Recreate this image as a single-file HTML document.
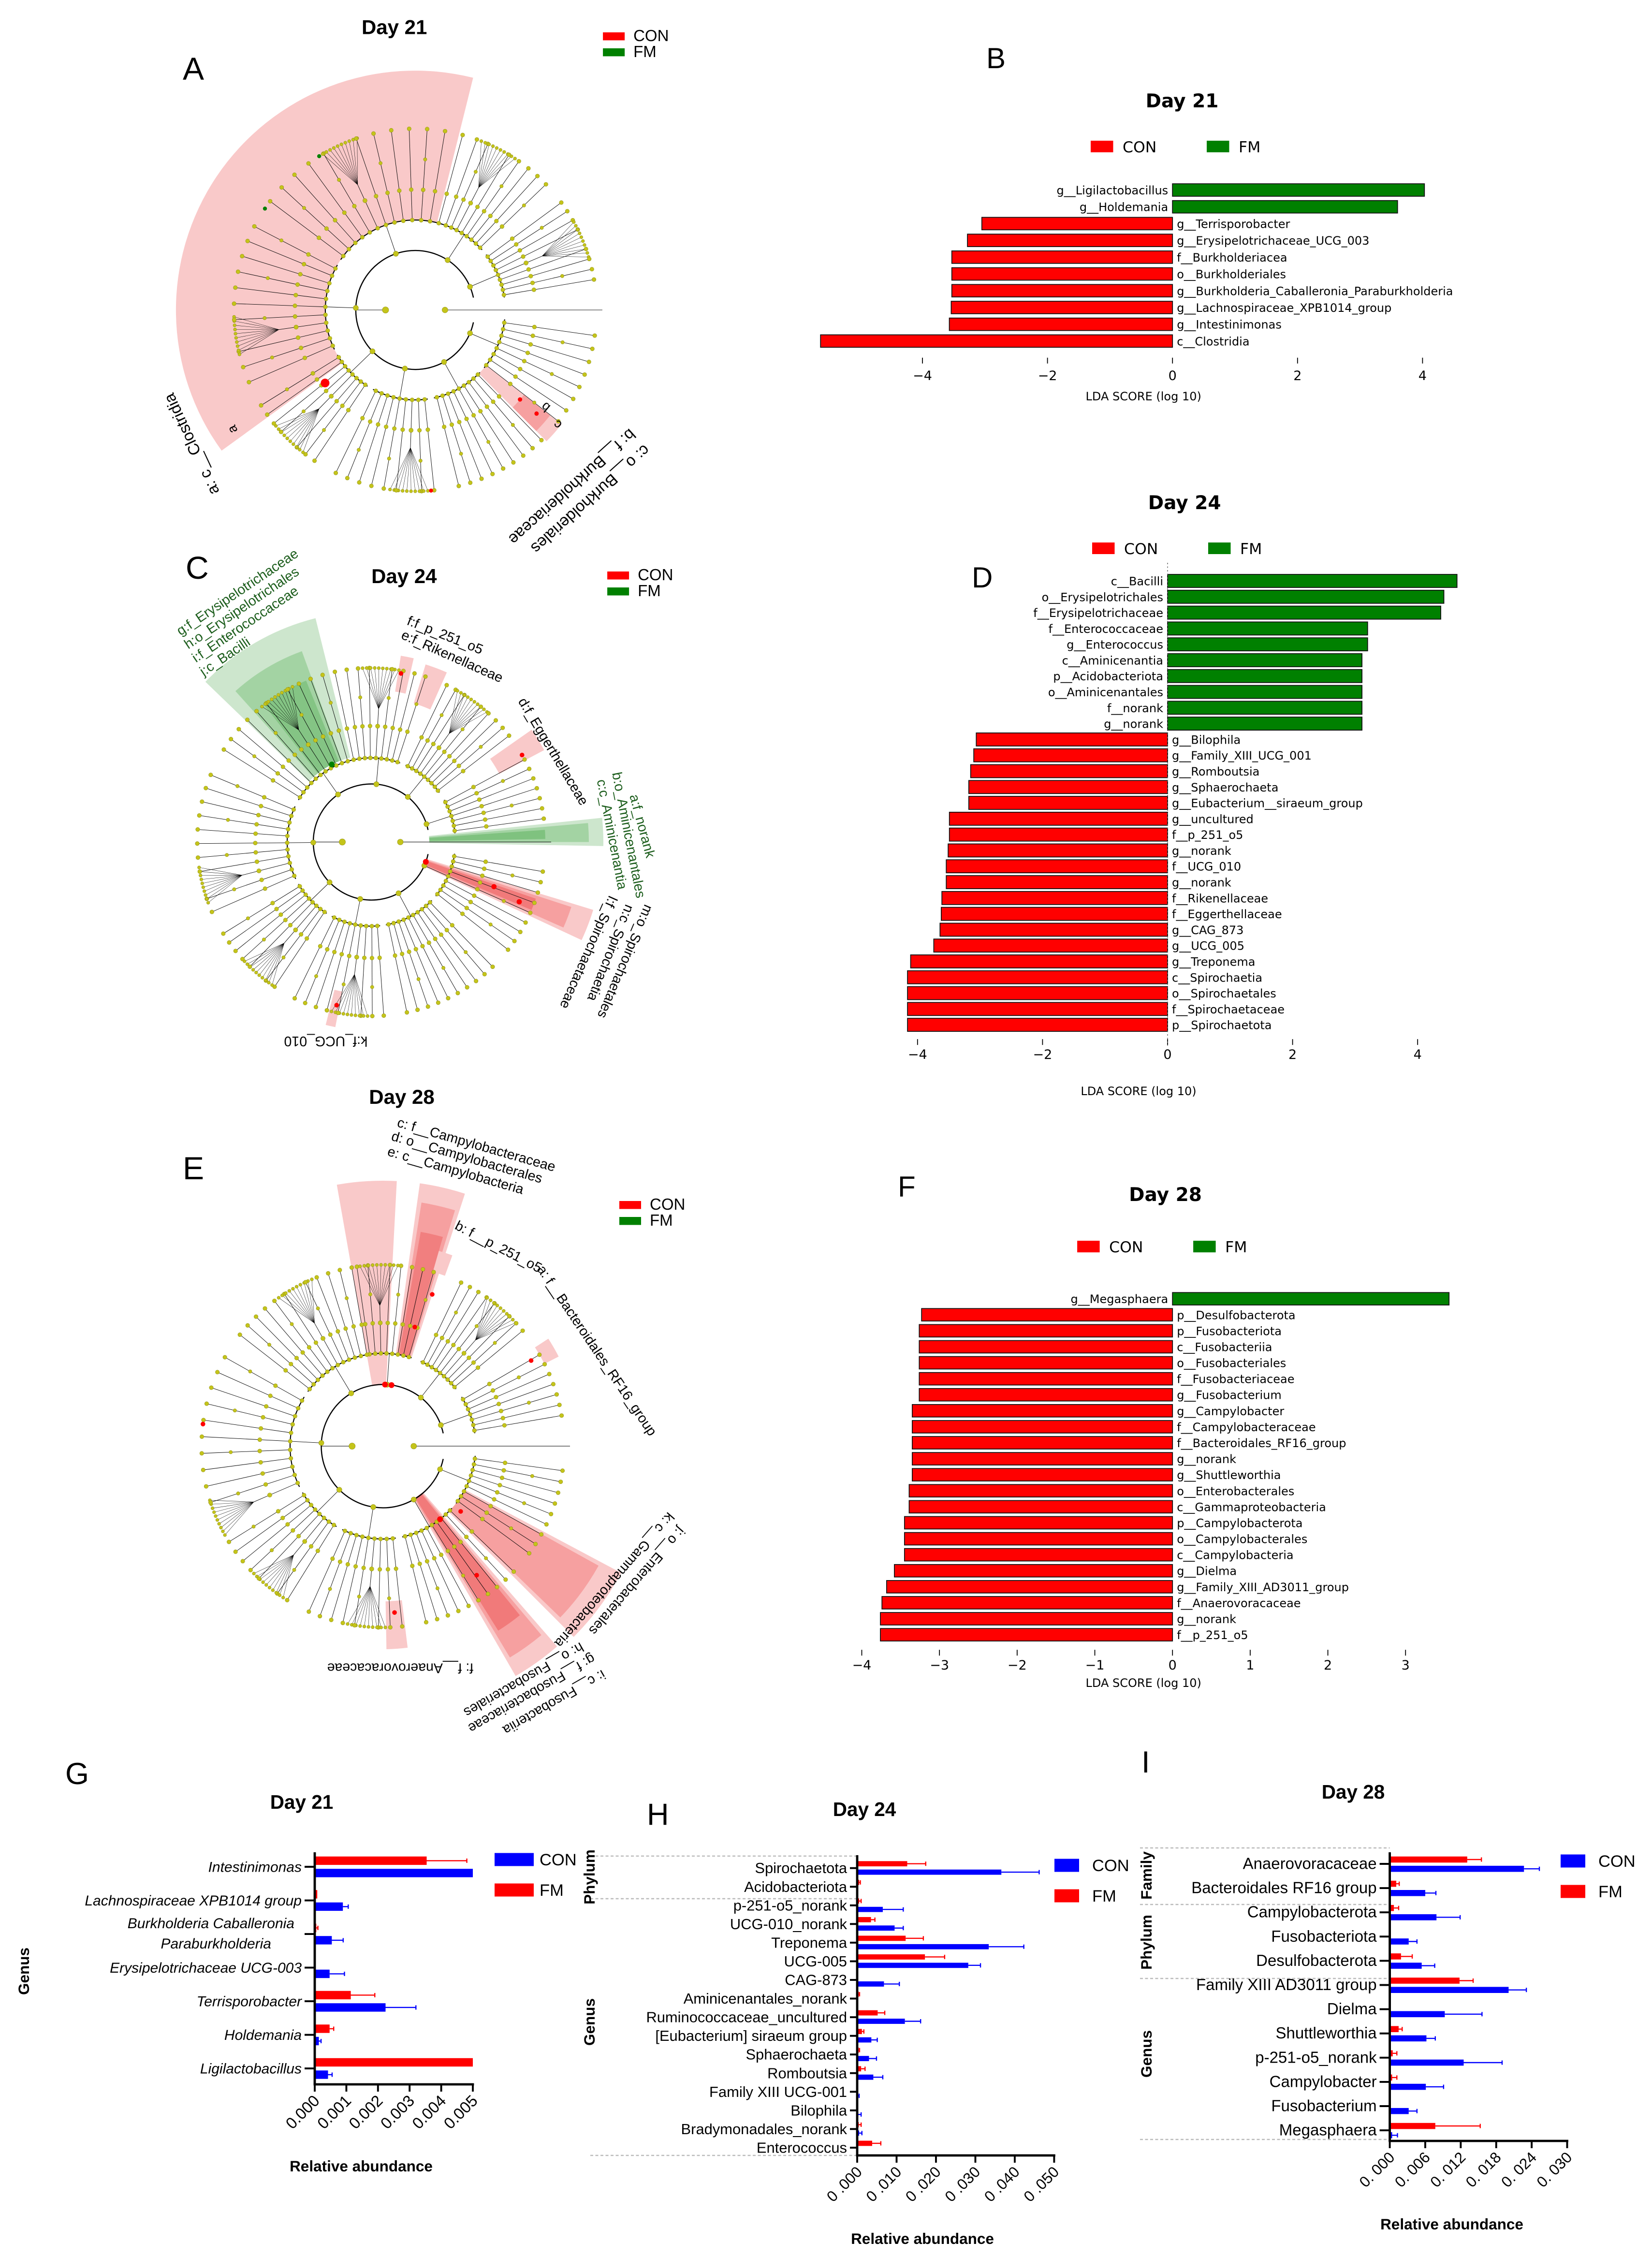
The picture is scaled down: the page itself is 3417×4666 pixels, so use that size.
<!DOCTYPE html>
<html><head><meta charset="utf-8"><title>LEfSe figure</title>
<style>
html,body{margin:0;padding:0;background:#fff;}
svg{display:block;}
text{font-family:"Liberation Sans",sans-serif;}
.dj{font-family:"DejaVu Sans","Liberation Sans",sans-serif;}
</style></head>
<body>
<svg id="fig" xmlns="http://www.w3.org/2000/svg" width="3417" height="4666" viewBox="0 0 1139 1555.33">
<rect x="0" y="0" width="1139" height="1555.33" fill="#fff"/>
</svg>
<script>
// ---------------- DATA ----------------
const B_labels=["g__Ligilactobacillus","g__Holdemania","g__Terrisporobacter","g__Erysipelotrichaceae_UCG_003","f__Burkholderiacea","o__Burkholderiales","g__Burkholderia_Caballeronia_Paraburkholderia","g__Lachnospiraceae_XPB1014_group","g__Intestinimonas","c__Clostridia"];
const B_values=[4.03,3.6,-3.05,-3.28,-3.53,-3.53,-3.53,-3.54,-3.57,-5.63];
const B_ticks=[-4,-2,0,2,4];

const D_labels=["c__Bacilli","o__Erysipelotrichales","f__Erysipelotrichaceae","f__Enterococcaceae","g__Enterococcus","c__Aminicenantia","p__Acidobacteriota","o__Aminicenantales","f__norank","g__norank","g__Bilophila","g__Family_XIII_UCG_001","g__Romboutsia","g__Sphaerochaeta","g__Eubacterium__siraeum_group","g__uncultured","f__p_251_o5","g__norank","f__UCG_010","g__norank","f__Rikenellaceae","f__Eggerthellaceae","g__CAG_873","g__UCG_005","g__Treponema","c__Spirochaetia","o__Spirochaetales","f__Spirochaetaceae","p__Spirochaetota"];
const D_values=[4.63,4.42,4.37,3.2,3.2,3.11,3.11,3.11,3.11,3.11,-3.06,-3.10,-3.15,-3.18,-3.18,-3.49,-3.49,-3.51,-3.54,-3.54,-3.61,-3.62,-3.64,-3.74,-4.11,-4.16,-4.16,-4.16,-4.16];
const D_ticks=[-4,-2,0,2,4];

const F_labels=["g__Megasphaera","p__Desulfobacterota","p__Fusobacteriota","c__Fusobacteriia","o__Fusobacteriales","f__Fusobacteriaceae","g__Fusobacterium","g__Campylobacter","f__Campylobacteraceae","f__Bacteroidales_RF16_group","g__norank","g__Shuttleworthia","o__Enterobacterales","c__Gammaproteobacteria","p__Campylobacterota","o__Campylobacterales","c__Campylobacteria","g__Dielma","g__Family_XIII_AD3011_group","f__Anaerovoracaceae","g__norank","f__p_251_o5"];
const F_values=[3.56,-3.23,-3.26,-3.26,-3.26,-3.26,-3.26,-3.35,-3.35,-3.35,-3.35,-3.35,-3.39,-3.39,-3.45,-3.45,-3.45,-3.58,-3.68,-3.74,-3.76,-3.76];
const F_ticks=[-4,-3,-2,-1,0,1,2,3];

const G_categories=["Intestinimonas","Lachnospiraceae XPB1014 group","Burkholderia Caballeronia|Paraburkholderia","Erysipelotrichaceae UCG-003","Terrisporobacter","Holdemania","Ligilactobacillus"];
const G_fm=[0.00354,0.00008,0.00005,0,0.00114,0.00047,0.005];
const G_fmErr=[0.00127,0,0.00005,0,0.00076,0.00013,0];
const G_con=[0.005,0.00089,0.00054,0.00047,0.00224,0.00013,0.00042];
const G_conErr=[0,0.00017,0.00036,0.00047,0.00096,0.00007,0.00013];
const G_ticks=["0.000","0.001","0.002","0.003","0.004","0.005"];

const H_categories=["Spirochaetota","Acidobacteriota","p-251-o5_norank","UCG-010_norank","Treponema","UCG-005","CAG-873","Aminicenantales_norank","Ruminococcaceae_uncultured","[Eubacterium] siraeum group","Sphaerochaeta","Romboutsia","Family XIII UCG-001","Bilophila","Bradymonadales_norank","Enterococcus"];
const H_fm=[0.0127,0.0005,0.0005,0.0035,0.0123,0.0172,0.0002,0.0004,0.0052,0.0012,0.0004,0.0010,0,0,0.0004,0.0038];
const H_fmErr=[0.0047,0.0003,0.0005,0.0010,0.0045,0.0050,0,0.0002,0.0018,0.0005,0.0002,0.0010,0,0,0.0006,0.0022];
const H_con=[0.0366,0,0.0065,0.0095,0.0334,0.0282,0.0068,0,0.0121,0.0036,0.0030,0.0041,0.0003,0.0003,0.0005,0.0001];
const H_conErr=[0.0096,0,0.0052,0.0022,0.0089,0.0031,0.0039,0,0.0040,0.0015,0.0019,0.0024,0.0002,0.0007,0.0007,0];
const H_ticks=["0 .000","0 .010","0 .020","0 .030","0 .040","0 .050"];

const I_categories=["Anaerovoracaceae","Bacteroidales RF16 group","Campylobacterota","Fusobacteriota","Desulfobacterota","Family XIII AD3011 group","Dielma","Shuttleworthia","p-251-o5_norank","Campylobacter","Fusobacterium","Megasphaera"];
const I_fm=[0.0131,0.0011,0.0007,0,0.0019,0.0118,0,0.0015,0.0005,0.0004,0,0.0077];
const I_fmErr=[0.0024,0.0005,0.0008,0,0.0019,0.0023,0,0.0006,0.0007,0.0008,0,0.0076];
const I_con=[0.0227,0.0060,0.0079,0.0032,0.0054,0.0201,0.0093,0.0062,0.0125,0.0061,0.0032,0.0004];
const I_conErr=[0.0026,0.0018,0.0040,0.0014,0.0022,0.0030,0.0063,0.0015,0.0065,0.0030,0.0014,0.0009];
const I_ticks=["0. 000","0. 006","0. 012","0. 018","0. 024","0. 030"];

// ---------------- HELPERS ----------------
const NS='http://www.w3.org/2000/svg';
const svg=document.getElementById('fig');
function mk(tag,parent,attrs,txt){const e=document.createElementNS(NS,tag);for(const k in attrs)e.setAttribute(k,attrs[k]);if(txt!==undefined)e.textContent=txt;(parent||svg).appendChild(e);return e;}
function grp(name){const g=mk('g',svg,{});


return g;}
function txt(parent,x,y,s,size,opts){opts=opts||{};const a={x:x,y:y,'font-size':size,fill:opts.fill||'#000'};if(opts.anchor)a['text-anchor']=opts.anchor;if(opts.weight)a['font-weight']=opts.weight;if(opts.style)a['font-style']=opts.style;if(opts.rot!==undefined)a.transform='rotate('+opts.rot+' '+x+' '+y+')';if(opts.cls)a['class']=opts.cls;return mk('text',parent,a,s);}
const RAD=Math.PI/180;
function P(cx,cy,r,a){return [cx+r*Math.cos(a*RAD),cy+r*Math.sin(a*RAD)];}
function sectorPath(cx,cy,r0,r1,a0,a1){const p1=P(cx,cy,r1,a0),p2=P(cx,cy,r1,a1),p3=P(cx,cy,r0,a1),p4=P(cx,cy,r0,a0);const lg=(a1-a0)>180?1:0;return 'M'+p1+' A'+r1+' '+r1+' 0 '+lg+' 1 '+p2+' L'+p3+' A'+r0+' '+r0+' 0 '+lg+' 0 '+p4+'Z';}
function arcPath(cx,cy,r,a0,a1){const p1=P(cx,cy,r,a0),p2=P(cx,cy,r,a1);return 'M'+p1+' A'+r+' '+r+' 0 '+((a1-a0)>180?1:0)+' 1 '+p2;}

// ---------------- CLADOGRAMS ----------------
function legendSmall(g,x,y){const r=mk('rect',g,{x:x,y:y-3,width:15,height:5.5,fill:'#ff0000'});


txt(g,x+21,y+3,'CON',11);
const r2=mk('rect',g,{x:x,y:y+8,width:15,height:5.5,fill:'#008000'});


txt(g,x+21,y+14,'FM',11);}
function cladogram(name,cx,cy,R,groups,wedges,redNodes){
  const g=grp(name);
  const wg=mk('g',g,{});
  
  
  wedges.forEach(w=>{mk('path',wg,{d:sectorPath(cx,cy,w[0],w[1],w[2],w[3]),fill:w[4],opacity:w[5]||1});});
  const tg=mk('g',g,{stroke:'#000','stroke-width':0.3,fill:'none'});
  
  
  const dots=[];
  mk('path',tg,{d:arcPath(cx,cy,R[0],12,348),'stroke-width':0.8});
  let p=P(cx,cy,R[0],180),q=P(cx,cy,R[0]*0.5,180);mk('line',tg,{x1:p[0],y1:p[1],x2:q[0],y2:q[1]});dots.push([q,2.2]);
  p=P(cx,cy,R[0]*0.5,0);q=P(cx,cy,R[3]+4,0);mk('line',tg,{x1:p[0],y1:p[1],x2:q[0],y2:q[1]});dots.push([p,2]);
  groups.forEach((gr,gi)=>{
    const a0=gr[0],a1=gr[1],n=gr[2],fan=gr[3];
    const mid=(a0+a1)/2;
    let s=P(cx,cy,R[0],mid),e=P(cx,cy,R[1],mid);
    mk('line',tg,{x1:s[0],y1:s[1],x2:e[0],y2:e[1]});dots.push([s,1.8]);
    mk('path',tg,{d:arcPath(cx,cy,R[1],a0,a1),'stroke-width':0.7});
    for(let j=0;j<n;j++){
      const a=a0+(j+0.5)*(a1-a0)/n;
      const s2=P(cx,cy,R[1],a),m=P(cx,cy,R[2],a),t=P(cx,cy,R[3],a);
      if(fan!==undefined && j===fan){
        mk('line',tg,{x1:s2[0],y1:s2[1],x2:m[0],y2:m[1]});
        const f=P(cx,cy,R[2]+12,a);mk('line',tg,{x1:m[0],y1:m[1],x2:f[0],y2:f[1]});
        for(let k=0;k<10;k++){const aa=a-6+k*12/9;const tt=P(cx,cy,R[3],aa);mk('line',tg,{x1:f[0],y1:f[1],x2:tt[0],y2:tt[1],'stroke-width':0.18});dots.push([tt,1.1]);}
        dots.push([m,1.5]);
      } else {
        mk('line',tg,{x1:s2[0],y1:s2[1],x2:t[0],y2:t[1]});
        dots.push([m,1.4]);dots.push([t,1.4]);
        if(j%3===1){const m2=P(cx,cy,(R[2]+R[3])/2,a);dots.push([m2,1.2]);}
      }
      dots.push([s2,1.4]);
    }
  });
  const dg=mk('g',g,{fill:'#c4c41a',stroke:'#8a8a10','stroke-width':0.2});
  
  
  dots.forEach(d=>mk('circle',dg,{cx:d[0][0],cy:d[0][1],r:d[1]}));
  (redNodes||[]).forEach(rn=>{const pp=P(cx,cy,rn[0],rn[1]);mk('circle',dg,{cx:pp[0],cy:pp[1],r:rn[2]||2,fill:rn[3]||'#ff0000',stroke:'none'});});
  return g;
}
const PINK='#f9c9c9',PINK2='#f6a0a0',RED2='#f07070',LG='#cde6cd',MG='#a3d3a3',DG='#6fba6f';
// Panel A
const gA=cladogram('cladogram-day21',286.3,213.7,[41,62,83,125],
 [[-72,-42,8,2],[-38,-8,9,4],[6,40,8],[44,78,9],[82,118,9,2],[122,150,8,3],[154,210,11,3],[214,288,13,5]],
 [[62,165,144,284,PINK],[62,128,38,45,PINK],[95,118,38,45,PINK2]],
 [[80,141,3],[110,40.5,1.5],[95,40.5,1.5],[125,85,1.4],[125,214,1.4,'#008000'],[125,238,1.4,'#008000']]);
txt(gA,271.9,23.5,'Day 21',14,{anchor:'middle',weight:'bold'});
txt(gA,126,55,'A',22);
legendSmall(gA,415.7,25.3);
txt(gA,151.4,339,'a: c__Clostridia',11,{rot:245});
txt(gA,434,295,'b: f__Burkholderiaceae',11,{rot:138});
txt(gA,444,306,'c: o__Burkholderiales',11,{rot:138});
txt(gA,164,297,'a',9,{rot:245});txt(gA,380,280,'b',9,{rot:220});txt(gA,388,292,'c',9,{rot:220});
// Panel C
const gC=cladogram('cladogram-day24',256,580.5,[40,58,80,120],
 [[-100,-70,8,3],[-66,-36,9,3],[-30,-6,7],[8,40,9],[44,80,10],[84,118,9,3],[122,150,8,2],[154,205,11,2],[210,260,12,6]],
 [[60,159,-136,-104,LG],[60,140,-132,-110,MG],[60,120,-128,-112,DG,0.6],[40,160,-6,1,LG],[40,150,-5,0,MG],[40,120,-4,-1,DG,0.7],[40,160,17,25,PINK],[40,145,18,24,PINK2],[40,120,19,23,RED2,0.8],[105,130,-81,-77,PINK],[100,128,-73,-66,PINK],[100,135,-35,-28,PINK],[105,130,101,104,PINK]],
 [[120,-30,1.6],[60,-117,2,'#008000'],[40,20,2],[90,20,1.8],[110,22,1.8],[118,-80,1.6],[115,102,1.6]]);
txt(gC,278.6,402,'Day 24',14,{anchor:'middle',weight:'bold'});
txt(gC,128,399,'C',22);
legendSmall(gC,418.7,397);
[['g:f_Erysipelotrichaceae',124.5,438.4],['h:o_Erysipelotrichales',129.8,447.7],['i:f_Enterococcaceae',135.1,457],['j:c_Bacilli',140.4,466.3]].forEach(t=>txt(gC,t[1],t[2],t[0],9.5,{rot:-34,fill:'#1d5e1d'}));
txt(gC,280,430.4,'f:f_p_251_o5',9.5,{rot:22});
txt(gC,276,440,'e:f_Rikenellaceae',9.5,{rot:24});
txt(gC,357,483.5,'d:f_Eggerthellaceae',9.5,{rot:59});
txt(gC,434,548.6,'a:f_norank',9.5,{rot:75,fill:'#1d5e1d'});
txt(gC,422,533,'b:o_Aminicenantales',9.5,{rot:79,fill:'#1d5e1d'});
txt(gC,411.5,538,'c:c_Aminicenantia',9.5,{rot:79,fill:'#1d5e1d'});
txt(gC,444.6,623,'m:o_Spirochaetales',9.5,{rot:113});
txt(gC,431.4,623,'n:c_Spirochaetia',9.5,{rot:112});
txt(gC,420,617,'l:f_Spirochaetaceae',9.5,{rot:114});
txt(gC,253.4,714.7,'k:f_UCG_010',9.5,{rot:180});
// Panel E
const gE=cladogram('cladogram-day28',264,997,[42.5,64,85,125],
 [[-100,-72,8,2],[-66,-38,9,5],[-32,-8,7],[6,38,9],[42,78,10],[82,116,9,3],[120,150,8,2],[154,212,11,0],[216,262,12,6]],
 [[42,183,-100,-87,PINK],[64,183,-82,-72,PINK],[64,170,-81,-73,PINK2],[64,150,-80,-74,RED2,0.7],[125,140,-74,-70,PINK],[125,136,-33,-27,PINK],[64,186,28,45,PINK],[64,170,29,44,PINK2],[42,183,49,60,PINK],[42,170,50,59,PINK2],[42,150,51,58,RED2,0.8],[107,140,83,89,PINK]],
 [[42.5,-88,2],[42.5,-82,2],[85,-75,1.6],[110,-72,1.6],[118,-30,1.6],[64,52,2],[110,54,1.6],[70,40,1.6],[115,86,1.6],[125,187,1.6]]);
txt(gE,277,761,'Day 28',14,{anchor:'middle',weight:'bold'});
txt(gE,126,813,'E',22);
legendSmall(gE,427,831);
txt(gE,273.3,776.6,'c: f__Campylobacteraceae',9.5,{rot:16});
txt(gE,269.3,786,'d: o__Campylobacterales',9.5,{rot:16});
txt(gE,266.6,796.5,'e: c__Campylobacteria',9.5,{rot:16});
txt(gE,313,847,'b: f__p_251_o5',9.5,{rot:27.6});
txt(gE,370,875,'a: f__Bacteroidales_RF16_group',9.5,{rot:56});
txt(gE,460.6,1042,'k: c__Gammaproteobacteria',9.5,{rot:131});
txt(gE,468,1052,'j: o__Enterobacterales',9.5,{rot:131});
txt(gE,326.4,1146.9,'f: f__Anaerovoracaceae',9.5,{rot:180});
txt(gE,415,1151,'i: c__Fusobacteriia',9.5,{rot:150});
txt(gE,408,1140,'g: f__Fusobacteriaceae',9.5,{rot:150});
txt(gE,400,1132,'h: o__Fusobacteriales',9.5,{rot:150});

// ---------------- LDA PANELS ----------------
function ldaPanel(name,labels,values,ticks,cfg){
  const g=grp(name);
  const xs=v=>cfg.zero+v*cfg.unit;
  txt(g,cfg.titleX,cfg.titleY,cfg.title,13,{anchor:'middle',weight:'bold',cls:'dj'});
  const lc=mk('rect',g,{x:cfg.legX,y:cfg.legY-4,width:15.5,height:8,fill:'#ff0000'});
  
  
  txt(g,cfg.legX+22,cfg.legY+4,'CON',10.5,{cls:'dj'});
  const lf=mk('rect',g,{x:cfg.legX+80,y:cfg.legY-4,width:15.5,height:8,fill:'#008000'});
  
  
  txt(g,cfg.legX+102,cfg.legY+4,'FM',10.5,{cls:'dj'});
  labels.forEach((lab,i)=>{
    const y=cfg.y0+i*cfg.step;const v=values[i];const x=xs(v);
    const r=mk('rect',g,{x:Math.min(x,cfg.zero),y:y-cfg.bh/2,width:Math.abs(x-cfg.zero),height:cfg.bh,fill:v>0?'#008000':'#ff0000',stroke:'#111','stroke-width':0.6});
    
    
    const t=txt(g,v>0?cfg.zero-3:cfg.zero+3,y+3,lab,cfg.fs,{anchor:v>0?'end':'start',cls:'dj'});
    
    
  });
  ticks.forEach(tk=>{const x=xs(tk);mk('line',g,{x1:x,y1:cfg.tickY-2,x2:x,y2:cfg.tickY+2,stroke:'#000','stroke-width':0.6});
    const t=txt(g,x,cfg.tickLY,(tk<0?'\u2212':'')+Math.abs(tk),9,{anchor:'middle',cls:'dj'});
    
    });
  const at=txt(g,cfg.zero-20,cfg.axY,'LDA SCORE (log 10)',8,{anchor:'middle',cls:'dj'});
  
  
  if(cfg.dotted)mk('line',g,{x1:cfg.zero,y1:cfg.dotted[0],x2:cfg.zero,y2:cfg.dotted[1],stroke:'#666','stroke-width':0.5,'stroke-dasharray':'1,1.5'});
  return g;
}
ldaPanel('lda-day21',B_labels,B_values,B_ticks,{zero:808.4,unit:43.1,y0:131,step:11.57,bh:8.6,fs:8,tickY:248.6,tickLY:262,axY:276,title:'Day 21',titleX:815,titleY:74,legX:752,legY:101});
ldaPanel('lda-day24',D_labels,D_values,D_ticks,{zero:805,unit:43.1,y0:400.5,step:10.93,bh:9,fs:8,tickY:718.4,tickLY:730,axY:755,title:'Day 24',titleX:816.7,titleY:351,legX:753,legY:378,dotted:[388,721]});
ldaPanel('lda-day28',F_labels,F_values,F_ticks,{zero:808.4,unit:53.56,y0:895.4,step:11.03,bh:8.6,fs:8,tickY:1139.4,tickLY:1151,axY:1163,title:'Day 28',titleX:803.5,titleY:828,legX:742.7,legY:859.4});
const lb=grp('panel-letters-bdf');
const lB=txt(lb,680,47,'B',20);

const lD=txt(lb,670,405,'D',20);

const lF=txt(lb,619,825,'F',20);


// ---------------- ABUNDANCE PANELS ----------------
function abPanel(name,cats,fm,fmErr,con,conErr,ticks,cfg){
  const g=grp(name);
  const xs=v=>cfg.x0+v/cfg.max*cfg.w;
  txt(g,cfg.titleX,cfg.titleY,cfg.title,13.5,{anchor:'middle',weight:'bold'});
  txt(g,cfg.letterX,cfg.letterY,cfg.letter,21);
  (cfg.dashes||[]).forEach(dy=>mk('line',g,{x1:cfg.dashX,y1:dy,x2:cfg.x0,y2:dy,stroke:'#bbb','stroke-width':0.8,'stroke-dasharray':'2,1.5'}));
  cats.forEach((c,i)=>{
    const y=cfg.y0+i*cfg.step;
    mk('line',g,{x1:cfg.x0-cfg.tick,y1:y,x2:cfg.x0,y2:y,stroke:'#000','stroke-width':1.3});
    if(c.indexOf('|')>=0){const parts=c.split('|');
      const t1=txt(g,cfg.x0-14,y-4,parts[0],cfg.fs,{anchor:'end',style:cfg.italic?'italic':null});
      
      
      const t2=txt(g,cfg.x0-30,y+10,parts[1],cfg.fs,{anchor:'end',style:cfg.italic?'italic':null});
      
      
    } else {
      const t=txt(g,cfg.x0-cfg.tick-2,y+3.5,c,cfg.fs,{anchor:'end',style:cfg.italic?'italic':null});
      
      
    }
    const yf=y+cfg.offF,yc=y+cfg.offC;
    const rf=mk('rect',g,{x:cfg.x0,y:yf-cfg.bh/2,width:Math.max(0,xs(Math.min(fm[i],cfg.max))-cfg.x0),height:cfg.bh,fill:'#ff0000'});
    
    
    if(fmErr[i]>0){const xe=xs(Math.min(fm[i]+fmErr[i],cfg.max));mk('line',g,{x1:xs(fm[i]),y1:yf,x2:xe,y2:yf,stroke:'#ff0000','stroke-width':0.8});mk('line',g,{x1:xe,y1:yf-1.5,x2:xe,y2:yf+1.5,stroke:'#ff0000','stroke-width':0.8});}
    const rc=mk('rect',g,{x:cfg.x0,y:yc-cfg.bh/2,width:Math.max(0,xs(Math.min(con[i],cfg.max))-cfg.x0),height:cfg.bh,fill:'#0000ff'});
    
    
    if(conErr[i]>0){const xe=xs(Math.min(con[i]+conErr[i],cfg.max));mk('line',g,{x1:xs(con[i]),y1:yc,x2:xe,y2:yc,stroke:'#0000ff','stroke-width':0.8});mk('line',g,{x1:xe,y1:yc-1.5,x2:xe,y2:yc+1.5,stroke:'#0000ff','stroke-width':0.8});}
  });
  mk('line',g,{x1:cfg.x0,y1:cfg.top,x2:cfg.x0,y2:cfg.bottom,stroke:'#000','stroke-width':1.6});
  mk('line',g,{x1:cfg.x0-0.8,y1:cfg.bottom,x2:cfg.x0+cfg.w+0.8,y2:cfg.bottom,stroke:'#000','stroke-width':1.6});
  ticks.forEach((tk,i)=>{const x=cfg.x0+i*cfg.w/(ticks.length-1);
    mk('line',g,{x1:x,y1:cfg.bottom,x2:x,y2:cfg.bottom+5,stroke:'#000','stroke-width':1.3});
    const t=txt(g,x+4,cfg.bottom+12,tk,cfg.tfs,{anchor:'end',rot:-45});
    
    });
  const at=txt(g,cfg.axX,cfg.axY,'Relative abundance',10.5,{anchor:'middle',weight:'bold'});
  
  
  (cfg.groupLabels||[]).forEach(gl=>txt(g,gl[1],gl[2],gl[0],10.5,{anchor:'middle',weight:'bold',rot:-90}));
  const lc=mk('rect',g,{x:cfg.legX,y:cfg.legY-4.5,width:cfg.legW,height:9,fill:'#0000ff'});
  
  
  txt(g,cfg.legTX,cfg.legY+4,'CON',11.5);
  const lf=mk('rect',g,{x:cfg.legX,y:cfg.legY+cfg.legGap-4.5,width:cfg.legW,height:9,fill:'#ff0000'});
  
  
  txt(g,cfg.legTX,cfg.legY+cfg.legGap+4,'FM',11.5);
  return g;
}
abPanel('abundance-day21',G_categories,G_fm,G_fmErr,G_con,G_conErr,G_ticks,{x0:217,w:109,max:0.005,y0:1287,step:23.17,offF:-4.2,offC:4.3,bh:5.8,tick:7,fs:10,italic:true,top:1277,bottom:1437,tfs:11,axX:249,axY:1497,title:'Day 21',titleX:208,titleY:1247,letter:'G',letterX:45,letterY:1230,groupLabels:[['Genus',20,1359]],legX:341,legW:27,legY:1282,legGap:21,legTX:372});
abPanel('abundance-day24',H_categories,H_fm,H_fmErr,H_con,H_conErr,H_ticks,{x0:591,w:135.8,max:0.05,y0:1287.9,step:12.85,offF:-3,offC:2.8,bh:3.6,tick:5,fs:10.3,italic:false,top:1279,bottom:1486,tfs:10.5,axX:636,axY:1547,title:'Day 24',titleX:596,titleY:1252,letter:'H',letterX:446,letterY:1258,dashes:[1279.6,1309,1486],dashX:407,groupLabels:[['Phylum',410,1294],['Genus',410,1394]],legX:727,legW:17,legY:1286,legGap:21,legTX:753});
abPanel('abundance-day28',I_categories,I_fm,I_fmErr,I_con,I_conErr,I_ticks,{x0:958.2,w:122.3,max:0.03,y0:1285,step:16.7,offF:-3,offC:3.4,bh:4.2,tick:7,fs:11,italic:false,top:1277,bottom:1476,tfs:10.5,axX:1001,axY:1537,title:'Day 28',titleX:933,titleY:1240,letter:'I',letterX:787,letterY:1222,dashes:[1274,1313,1364,1475],dashX:786,groupLabels:[['Family',794,1293],['Phylum',794,1339],['Genus',794,1416]],legX:1076,legW:17,legY:1283,legGap:21,legTX:1102});
</script>
</body></html>
